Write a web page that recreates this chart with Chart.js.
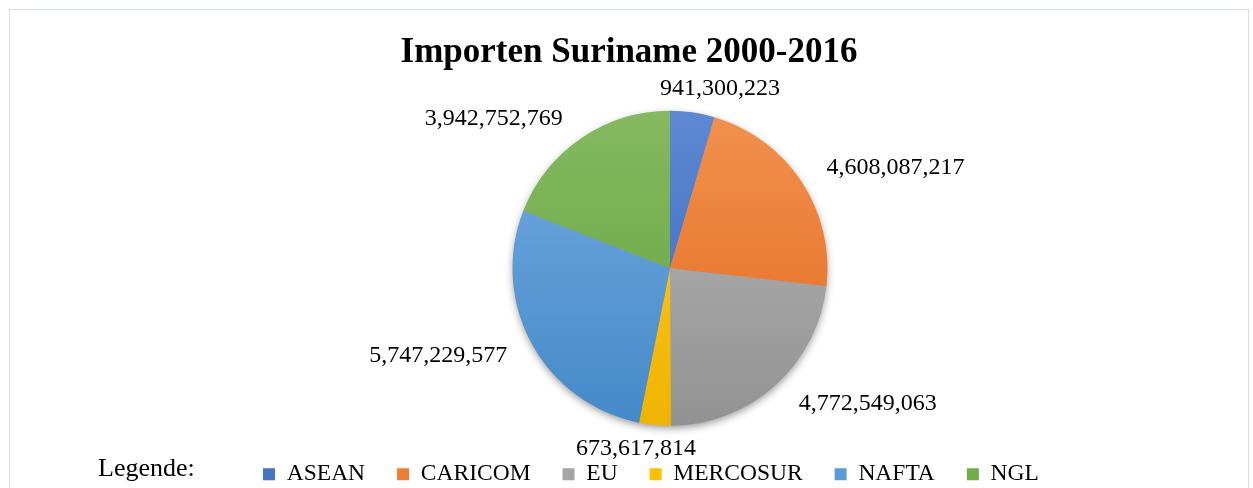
<!DOCTYPE html>
<html>
<head>
<meta charset="utf-8">
<title>Importen Suriname 2000-2016</title>
<script src="https://cdn.jsdelivr.net/npm/chart.js@4"></script>
<style>
  html, body { margin: 0; padding: 0; background: #fff; overflow: hidden; }
  #wrap { position: relative; width: 1253px; height: 488px; overflow: hidden; }
  #frame { position: absolute; left: 9px; top: 9px; width: 1240px; height: 520px; border: 1px solid #d9dfe8; box-sizing: border-box; }
  #title { position: absolute; left: 9px; width: 1240px; top: 33px; text-align: center;
           font: bold 35px/35px "Times New Roman", "Liberation Serif", serif; color: #000; }
  #legendLabel { position: absolute; left: 98px; top: 455px;
                 font: 26px/26px "Times New Roman", "Liberation Serif", serif; color: #000; }
  canvas { position: absolute; left: 0; top: 0; }
</style>
</head>
<body>
<div id="wrap">
  <div id="frame"></div>
  <canvas id="chart" width="1253" height="496"></canvas>
  <div id="title">Importen Suriname 2000-2016</div>
  <div id="legendLabel">Legende:</div>
</div>
<script>
// --- Data
const categories = ["ASEAN", "CARICOM", "EU", "MERCOSUR", "NAFTA", "NGL"];
const imports = [941300223, 4608087217, 4772549063, 673617814, 5747229577, 3942752769];

// --- Palette (Office theme, with a light->dark gradient like the original)
const baseColors  = ["#4472C4", "#ED7D31", "#A5A5A5", "#FFC000", "#5B9BD5", "#70AD47"];
const lightColors = ["#5e88d2", "#f2914f", "#b8b8b8", "#ffcb2e", "#74abe0", "#85b961"];
const darkColors  = ["#3566c0", "#e2691a", "#929292", "#efb400", "#4489c9", "#62a23a"];

const SERIF = "'Times New Roman', 'Liberation Serif', serif";
const PIE_RADIUS = 157.5;
// outside-end labels; Excel fans them out sideways a bit, so the x direction is stretched
const LABEL_SPREAD = 1.5;
const LABEL_GAP_X = 20;
const LABEL_GAP_Y = 14;
const LABEL_H = 20;

const fmt = (n) => n.toLocaleString("en-US");

function sliceFill(ctx){
  const chart = ctx.chart;
  const area = chart.chartArea;
  const i = ctx.dataIndex;
  if (!area) return baseColors[i];
  const cy = (area.top + area.bottom) / 2;
  const g = chart.ctx.createLinearGradient(0, cy - PIE_RADIUS, 0, cy + PIE_RADIUS);
  g.addColorStop(0, lightColors[i]);
  g.addColorStop(1, darkColors[i]);
  return g;
}

// soft drop shadow under the whole pie
const pieShadow = {
  id: "pieShadow",
  beforeDatasetsDraw(chart){
    const arc = chart.getDatasetMeta(0).data[0];
    if (!arc) return;
    const { x, y, outerRadius } = arc.getProps(["x", "y", "outerRadius"], true);
    const ctx = chart.ctx;
    ctx.save();
    ctx.shadowColor = "rgba(0,0,0,0.45)";
    ctx.shadowBlur = 9;
    ctx.shadowOffsetY = 3;
    ctx.fillStyle = "#9a9a9a";
    ctx.beginPath();
    ctx.arc(x, y, outerRadius - 1, 0, Math.PI * 2);
    ctx.fill();
    ctx.restore();
  }
};

// value labels outside each slice
const sliceLabels = {
  id: "sliceLabels",
  afterDatasetsDraw(chart){
    const ctx = chart.ctx;
    const meta = chart.getDatasetMeta(0);
    ctx.save();
    ctx.font = `24px ${SERIF}`;
    ctx.fillStyle = "#000";
    ctx.textAlign = "center";
    ctx.textBaseline = "middle";
    meta.data.forEach((arc, i) => {
      const { x, y, startAngle, endAngle, outerRadius } =
        arc.getProps(["x", "y", "startAngle", "endAngle", "outerRadius"], true);
      const mid = (startAngle + endAngle) / 2;
      const ux = Math.cos(mid), uy = Math.sin(mid);
      const sx = ux * LABEL_SPREAD / Math.hypot(ux * LABEL_SPREAD, uy);
      const txt = fmt(imports[i]);
      const w = ctx.measureText(txt).width;
      const lx = x + sx * (outerRadius + LABEL_GAP_X + w / 2);
      const ly = y + uy * (outerRadius + LABEL_GAP_Y + LABEL_H / 2);
      ctx.fillText(txt, lx, ly);
    });
    ctx.restore();
  }
};

new Chart(document.getElementById("chart"), {
  type: "pie",
  data: {
    labels: categories,
    datasets: [{
      data: imports,
      backgroundColor: sliceFill,
      borderWidth: 0,
      radius: PIE_RADIUS
    }]
  },
  options: {
    responsive: false,
    animation: false,
    layout: { padding: { top: 106, left: 231, right: 144, bottom: 0 } },
    plugins: {
      title: { display: false },
      tooltip: { enabled: false },
      legend: {
        position: "bottom",
        align: "start",
        labels: {
          boxWidth: 12,
          boxHeight: 12,
          padding: 32,
          color: "#000",
          font: { family: SERIF, size: 23.5 },
          generateLabels: () => categories.map((c, i) => ({
            text: c,
            fillStyle: baseColors[i],
            strokeStyle: baseColors[i],
            lineWidth: 0,
            hidden: false,
            index: i,
            fontColor: "#000"
          }))
        }
      }
    }
  },
  plugins: [pieShadow, sliceLabels]
});
</script>
</body>
</html>
